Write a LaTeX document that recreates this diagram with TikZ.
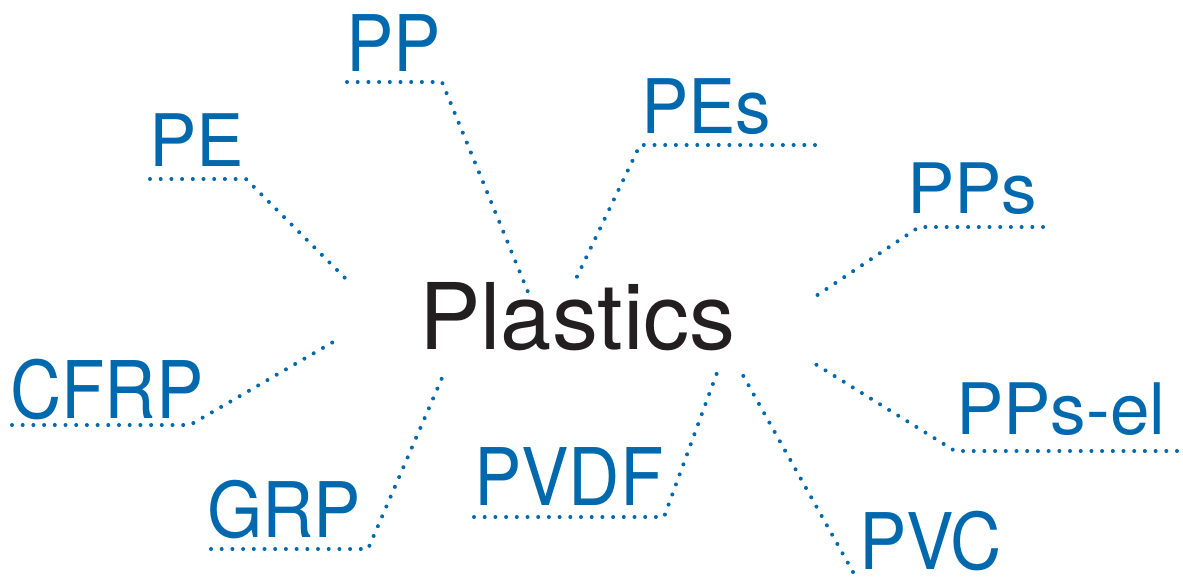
\documentclass[tikz,border=0pt]{standalone}
\usepackage{graphicx}
\usepackage{fontspec}
\setmainfont{TeX Gyre Heros}
\definecolor{lblue}{RGB}{0,104,172}
\definecolor{dgray}{RGB}{35,31,32}
\newcommand{\lbl}[2]{\scalebox{1}[#1]{#2}}
\begin{document}
\begin{tikzpicture}[x=1pt,y=-1pt,
  lab/.style={font=\fontsize{71}{71}\selectfont, text=lblue, inner sep=0pt, anchor=base west},
  dots/.style={draw=lblue, line width=4pt, line cap=round, dash pattern=on 0pt off 10.7pt}]
\useasboundingbox (0,0) rectangle (1183,578);
\node[font=\fontsize{92}{92}\selectfont, text=dgray, inner sep=0pt, anchor=base west] (plastics) at (419,349) {Plastics};
\node[lab] (pp) at (346,71) {\lbl{1.10}{PP}};
\node[lab] (pe) at (149,166) {\lbl{1.02}{PE}};
\node[lab] (pes) at (641,133) {\lbl{1.06}{PEs}};
\node[lab] (pps) at (907,213) {\lbl{0.98}{PPs}};
\node[lab] (cfrp) at (10,418) {\lbl{1.12}{CFRP}};
\node[lab] (grp) at (207,537) {\lbl{1.08}{GRP}};
\node[lab] (pvdf) at (474,505) {\lbl{1.12}{PVDF}};
\node[lab] (pvc) at (859,569) {\lbl{1.10}{PVC}};
\node[lab] (ppsel) at (956,434) {\lbl{1.0}{PPs-el}};
% underline / leader coordinates
\coordinate (ppA) at (347,82); \coordinate (ppB) at (442,82); \coordinate (ppC) at (528,292);
\coordinate (peA) at (150,179); \coordinate (peB) at (246,179); \coordinate (peC) at (347,280);
\coordinate (pesA) at (815,145); \coordinate (pesB) at (640,145); \coordinate (pesC) at (573,285);
\coordinate (ppsA) at (1043,227); \coordinate (ppsB) at (919,227); \coordinate (ppsC) at (810,300);
\coordinate (cfrpA) at (12,425); \coordinate (cfrpB) at (190,425); \coordinate (cfrpC) at (340,338);
\coordinate (grpA) at (211,549); \coordinate (grpB) at (368,549); \coordinate (grpC) at (445,371);
\coordinate (pvdfA) at (474,517); \coordinate (pvdfB) at (664,517); \coordinate (pvdfC) at (718,370);
\coordinate (pvcB) at (853,572); \coordinate (pvcC) at (740,370);
\coordinate (ppselA) at (1177,451); \coordinate (ppselB) at (955,451); \coordinate (ppselC) at (812,362);
\draw[dots] (ppA) -- (ppB) -- (ppC);
\draw[dots] (peA) -- (peB) -- (peC);
\draw[dots] (pesA) -- (pesB) -- (pesC);
\draw[dots] (ppsA) -- (ppsB) -- (ppsC);
\draw[dots] (cfrpA) -- (cfrpB) -- (cfrpC);
\draw[dots] (grpA) -- (grpB) -- (grpC);
\draw[dots] (pvdfA) -- (pvdfB) -- (pvdfC);
\draw[dots] (pvcB) -- (pvcC);
\draw[dots] (ppselA) -- (ppselB) -- (ppselC);
\end{tikzpicture}
\end{document}
